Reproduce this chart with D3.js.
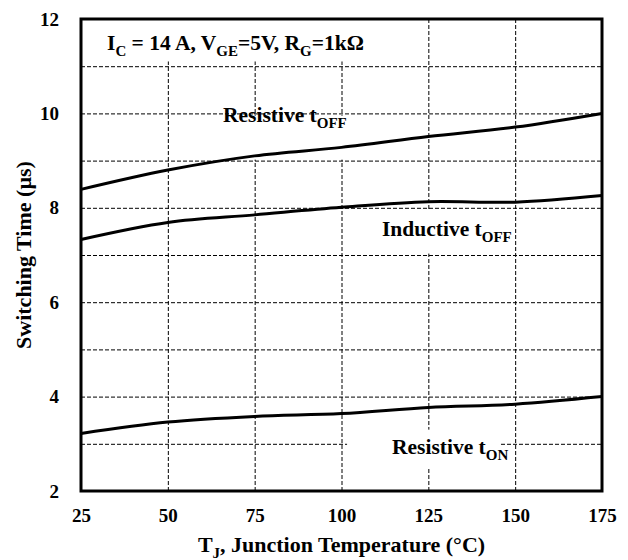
<!DOCTYPE html>
<html>
<head>
<meta charset="utf-8">
<script src="https://cdn.jsdelivr.net/npm/d3@7"></script>
<style>
  body { margin: 0; background: #fff; }
  svg { display: block; }
  text { font-family: "Liberation Serif", "Times New Roman", serif; font-weight: bold; fill: #000; }
</style>
</head>
<body>
<div id="chart"></div>
<script>
//
// Switching time vs junction temperature, three curves
//

var temps = [25, 50, 75, 100, 125, 150, 175];
var resistiveOff = [8.39, 8.80, 9.10, 9.28, 9.51, 9.71, 10.0];
var inductiveOff = [7.33, 7.69, 7.85, 8.01, 8.13, 8.12, 8.26];
var resistiveOn = [3.22, 3.46, 3.58, 3.64, 3.77, 3.84, 4.0];

var xTicks = [25, 50, 75, 100, 125, 150, 175];
var yTicks = [2, 4, 6, 8, 10, 12];
var xGrid = [50, 75, 100, 125, 150];
var yGrid = [3, 4, 5, 6, 7, 8, 9, 10, 11];

var W = 628, H = 560;
var margin = {top: 19, right: 26, bottom: 69, left: 81};

var x = d3.scaleLinear().domain([25, 175]).range([margin.left, W - margin.right]);
var y = d3.scaleLinear().domain([2, 12]).range([H - margin.bottom, margin.top]);

var svg = d3.select("#chart").append("svg")
	.attr("width", W)
	.attr("height", H);

//
// dashed grid
//
var grid = svg.append("g")
	.attr("stroke", "#000")
	.attr("stroke-width", 1)
	.attr("stroke-dasharray", "4,2");

grid.selectAll(".hg").data(yGrid).enter().append("line")
	.attr("x1", x(25)).attr("x2", x(175))
	.attr("y1", function(d) { return y(d) + 0.5; })
	.attr("y2", function(d) { return y(d) + 0.5; });

grid.selectAll(".vg").data(xGrid).enter().append("line")
	.attr("y1", y(2)).attr("y2", y(12))
	.attr("x1", function(d) { return x(d) + 0.5; })
	.attr("x2", function(d) { return x(d) + 0.5; });

//
// white patches behind the labels (they hide the grid)
//
function patch(x0, y0, x1, y1) {
	svg.append("rect")
		.attr("x", x(x0)).attr("y", y(y0))
		.attr("width", x(x1) - x(x0))
		.attr("height", y(y1) - y(y0))
		.attr("fill", "#fff");
}
patch(25, 12, 121, 11.1);
patch(62.3, 9.95, 110.1, 9.02);
patch(101, 7.97, 147, 7.03);
patch(101.6, 3.3, 145.5, 2.48);

//
// curves
//
function series(vals) {
	return temps.map(function(t, i) { return [t, vals[i]]; });
}
var line = d3.line()
	.x(function(d) { return x(d[0]); })
	.y(function(d) { return y(d[1]); })
	.curve(d3.curveCatmullRom.alpha(0.5));

[resistiveOff, inductiveOff, resistiveOn].forEach(function(v) {
	svg.append("path")
		.attr("d", line(series(v)))
		.attr("fill", "none")
		.attr("stroke", "#000")
		.attr("stroke-width", 3);
});

//
// frame
//
svg.append("rect")
	.attr("x", x(25)).attr("y", y(12))
	.attr("width", x(175) - x(25))
	.attr("height", y(2) - y(12))
	.attr("fill", "none")
	.attr("stroke", "#000")
	.attr("stroke-width", 3);

//
// axes
//
var xAxis = svg.append("g")
	.attr("transform", "translate(0," + y(2) + ")")
	.call(d3.axisBottom(x).tickValues(xTicks).tickSize(0).tickPadding(18));
xAxis.select(".domain").remove();
xAxis.selectAll("text")
	.style("font-family", "Liberation Serif")
	.style("font-weight", "bold")
	.style("font-size", "19px");

var yAxis = svg.append("g")
	.attr("transform", "translate(" + x(25) + ",0)")
	.call(d3.axisLeft(y).tickValues(yTicks).tickSize(0).tickPadding(22));
yAxis.select(".domain").remove();
yAxis.selectAll("text")
	.style("font-family", "Liberation Serif")
	.style("font-weight", "bold")
	.style("font-size", "19px");

//
// text with subscripts
//
function label(g, parts, size, subSize) {
	var t = g.append("text").style("font-size", size + "px");
	var shift = 0;
	parts.forEach(function(p) {
		var down = p[1] ? size * 0.28 : 0;
		t.append("tspan")
			.attr("dy", down - shift)
			.style("font-size", (p[1] ? subSize : size) + "px")
			.text(p[0]);
		shift = down;
	});
	return t;
}

label(svg, [["Resistive t", 0], ["OFF", 1]], 21.5, 15)
	.attr("x", 223).attr("y", y(9.82));
label(svg, [["Inductive t", 0], ["OFF", 1]], 21.5, 15)
	.attr("x", 382).attr("y", y(7.4));
label(svg, [["Resistive t", 0], ["ON", 1]], 21.5, 15)
	.attr("x", 392).attr("y", y(2.78));

label(svg, [["I", 0], ["C", 1], [" = 14 A, V", 0], ["GE", 1], ["=5V, R", 0], ["G", 1], ["=1k\u03A9", 0]], 21.5, 15)
	.attr("x", 107).attr("y", y(11.35));

//
// axis titles
//
label(svg, [["T", 0], ["J", 1], [", Junction Temperature (\u00B0C)", 0]], 22, 15)
	.attr("x", x(100)).attr("y", 552)
	.attr("text-anchor", "middle");

svg.append("text")
	.attr("transform", "translate(31,255) rotate(-90)")
	.attr("text-anchor", "middle")
	.style("font-size", "22px")
	.text("Switching Time (\u00B5s)");
</script>
</body>
</html>
